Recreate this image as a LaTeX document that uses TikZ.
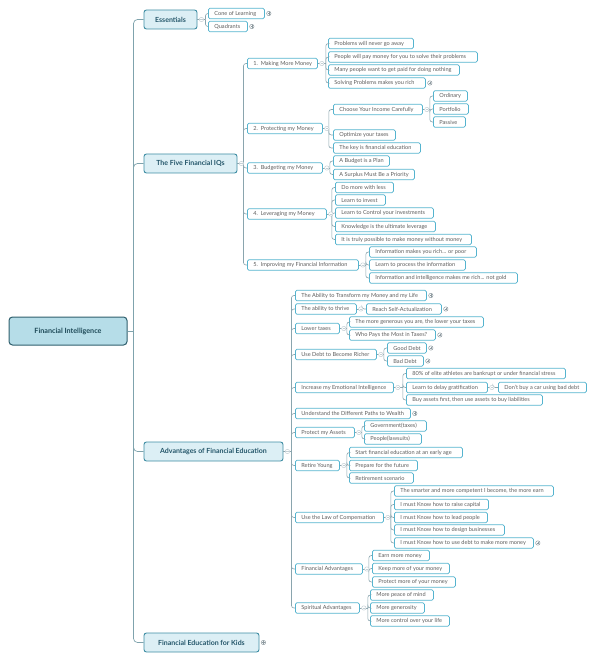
\documentclass[tikz,border=0pt]{standalone}
\usepackage{fontspec}
\setmainfont{Lato}
\definecolor{rootf}{HTML}{B6DDE8}
\definecolor{rootb}{HTML}{2F5F6D}
\definecolor{roott}{HTML}{1E4A58}
\definecolor{lonef}{HTML}{DCEFF5}
\definecolor{loneb}{HTML}{3E8DA3}
\definecolor{lonet}{HTML}{24566A}
\definecolor{leafc}{HTML}{55B4CF}
\definecolor{leaftxt}{HTML}{5E5E5E}
\definecolor{connc}{HTML}{8AA5AE}
\definecolor{trunkc}{HTML}{7FA3AD}
\definecolor{foldmc}{HTML}{C5D0D5}
\definecolor{foldpc}{HTML}{8E9AA0}
\tikzset{
  leaf/.style={draw=leafc, line width=0.8pt, fill=white, rounded corners=1.5pt,
    inner xsep=6pt, inner ysep=0pt, minimum height=10.5pt, anchor=west,
    font=\fontsize{5.6}{6}\selectfont, text=leaftxt},
  lone/.style={draw=loneb, line width=0.9pt, fill=lonef, rounded corners=2.5pt,
    inner xsep=1pt, inner ysep=0pt, minimum height=19pt,
    font=\fontsize{7}{8}\selectfont\bfseries, text=lonet},
  rootn/.style={draw=rootb, line width=1pt, fill=rootf, rounded corners=3.5pt,
    inner sep=1pt, font=\fontsize{7.2}{8}\selectfont\bfseries, text=roott},
  conn/.style={draw=connc, line width=0.6pt},
  trunk/.style={draw=trunkc, line width=0.7pt},
  foldm/.style={draw=foldmc, line width=0.5pt},
  foldp/.style={draw=foldpc, line width=0.5pt},
}
\newcommand\nd[5]{\pgfmathsetmacro\ndw{#3-#2-12}%
  \node[leaf] (#1) at (#2,#4) {\makebox[\ndw pt][l]{#5}};}
\newcommand\ndl[5]{\node[lone, minimum width={(#3-#2)*1pt}] (#1) at ({(#2+#3)/2},#4) {#5};}
\newcommand\br[3]{\draw[conn] (#1.east) -- ++(#2,0) coordinate (j#1);
  \foreach \c in {#3}{\draw[conn,rounded corners=2.5pt] (j#1) |- (\c.west);}}
\newcommand\fm[1]{\fill[white] ([xshift=4pt]#1.east) circle (2.2pt);
  \draw[foldm] ([xshift=4pt]#1.east) circle (2.2pt);
  \draw[foldm] ([xshift=2.9pt]#1.east) -- ([xshift=5.1pt]#1.east);}
\newcommand\fp[1]{\fill[white] ([xshift=4pt]#1.east) circle (2.2pt);
  \draw[foldp] ([xshift=4pt]#1.east) circle (2.2pt);
  \draw[foldp] ([xshift=2.9pt]#1.east) -- ([xshift=5.1pt]#1.east);
  \draw[foldp] ([xshift=4pt,yshift=1.1pt]#1.east) -- ([xshift=4pt,yshift=-1.1pt]#1.east);}
\begin{document}
\begin{tikzpicture}[x=1pt,y=-1pt]
\useasboundingbox (0,0) rectangle (594,660);
% root
\node[rootn, minimum width=118pt, minimum height=28pt] (root) at (68,331) {Financial Intelligence};
% level 1
\ndl{ess}{144}{197}{19.5}{Essentials}
\ndl{fiq}{144}{237}{163.5}{The Five Financial IQs}
\ndl{adv}{144}{283}{451.5}{Advantages of Financial Education}
\ndl{kids}{144}{259}{642.5}{Financial Education for Kids}
% Essentials
\nd{cone}{208}{264}{13.5}{Cone of Learning}
\nd{quad}{208}{247}{26.5}{Quadrants}
% Five IQs
\nd{m1}{247}{317}{63.5}{1.\enspace Making More Money}
\nd{m2}{247}{322}{128.5}{2.\enspace Protecting my Money}
\nd{m3}{247}{322}{168}{3.\enspace Budgeting my Money}
\nd{m4}{247}{326}{214}{4.\enspace Leveraging my Money}
\nd{m5}{247}{358}{265}{5.\enspace Improving my Financial Information}
\nd{m1a}{328}{413}{43.5}{Problems will never go away}
\nd{m1b}{328}{477}{57}{People will pay money for you to solve their problems}
\nd{m1c}{328}{459}{70}{Many people want to get paid for doing nothing}
\nd{m1d}{328}{425}{83}{Solving Problems makes you rich}
\nd{m2a}{333}{422}{109.5}{Choose Your Income Carefully}
\nd{m2b}{333}{395}{135}{Optimize your taxes}
\nd{m2c}{333}{420}{148}{The key is financial education}
\nd{m2aa}{433}{467}{96}{Ordinary}
\nd{m2ab}{433}{468}{109}{Portfolio}
\nd{m2ac}{433}{465}{122}{Passive}
\nd{m3a}{333}{389}{161}{A Budget is a Plan}
\nd{m3b}{333}{414}{174.5}{A Surplus Must Be a Priority}
\nd{m4a}{335}{393}{187.5}{Do more with less}
\nd{m4b}{335}{385}{200}{Learn to invest}
\nd{m4c}{335}{433}{213}{Learn to Control your investments}
\nd{m4d}{335}{435}{226.5}{Knowledge is the ultimate leverage}
\nd{m4e}{335}{471}{239.5}{It is truly possible to make money without money}
\nd{m5a}{369}{476}{252}{Information makes you rich... or poor}
\nd{m5b}{369}{465}{265}{Learn to process the information}
\nd{m5c}{369}{517}{278}{Information and intelligence makes me rich... not gold}
% Advantages
\nd{a1}{295}{426}{295.5}{The Ability to Transform my Money and my Life}
\nd{a2}{295}{356}{309}{The ability to thrive}
\nd{a2a}{366}{441}{309}{Reach Self-Actualization}
\nd{a3}{295}{339}{328.5}{Lower taxes}
\nd{a3a}{349}{483}{322}{The more generous you are, the lower your taxes}
\nd{a3b}{349}{435}{335}{Who Pays the Most in Taxes?}
\nd{a4}{295}{376}{354.5}{Use Debt to Become Richer}
\nd{a4a}{387}{426}{348}{Good Debt}
\nd{a4b}{387}{423}{361}{Bad Debt}
\nd{a5}{295}{393}{387.5}{Increase my Emotional Intelligence}
\nd{a5a}{406}{565}{373.5}{80\% of elite athletes are bankrupt or under financial stress}
\nd{a5b}{406}{487}{387.5}{Learn to delay gratification}
\nd{a5ba}{498}{586}{387.5}{Don't buy a car using bad debt}
\nd{a5c}{406}{542}{400}{Buy assets first, then use assets to buy liabilities}
\nd{a6}{295}{410}{413.5}{Understand the Different Paths to Wealth}
\nd{a7}{295}{354}{432.5}{Protect my Assets}
\nd{a7a}{364}{426}{426}{Government(taxes)}
\nd{a7b}{364}{421}{439}{People(lawsuits)}
\nd{a8}{295}{339}{465.5}{Retire Young}
\nd{a8a}{349}{462}{452.5}{Start financial education at an early age}
\nd{a8b}{349}{417}{465.5}{Prepare for the future}
\nd{a8c}{349}{413}{478}{Retirement scenario}
\nd{a9}{295}{383}{517.5}{Use the Law of Compensation}
\nd{a9a}{394}{553}{491}{The smarter and more competent I become, the more earn}
\nd{a9b}{394}{488}{504.5}{I must Know how to raise capital}
\nd{a9c}{394}{487}{517.5}{I must Know how to lead people}
\nd{a9d}{394}{504}{530}{I must Know how to design businesses}
\nd{a9e}{394}{533}{543}{I must Know how to use debt to make more money}
\nd{a10}{295}{362}{569}{Financial Advantages}
\nd{a10a}{372}{429}{555.5}{Earn more money}
\nd{a10b}{372}{449}{568.5}{Keep more of your money}
\nd{a10c}{372}{455}{582}{Protect more of your money}
\nd{a11}{295}{359}{608}{Spiritual Advantages}
\nd{a11a}{370}{433}{595}{More peace of mind}
\nd{a11b}{370}{424}{608}{More generosity}
\nd{a11c}{370}{449}{621}{More control over your life}
% trunk
\draw[trunk] (root.east) -- ++(6,0) coordinate (jroot);
\foreach \c in {ess,fiq,adv,kids}{\draw[trunk,rounded corners=4pt] (jroot) |- (\c.west);}
% branches
\br{ess}{8}{cone,quad}
\br{fiq}{6}{m1,m2,m3,m4,m5}
\br{m1}{8}{m1a,m1b,m1c,m1d}
\br{m2}{6}{m2a,m2b,m2c}
\br{m2a}{7}{m2aa,m2ab,m2ac}
\br{m3}{7}{m3a,m3b}
\br{m4}{5}{m4a,m4b,m4c,m4d,m4e}
\br{m5}{7}{m5a,m5b,m5c}
\br{adv}{8}{a1,a2,a3,a4,a5,a6,a7,a8,a9,a10,a11}
\br{a2}{5}{a2a}
\br{a3}{7}{a3a,a3b}
\br{a4}{7}{a4a,a4b}
\br{a5}{9}{a5a,a5b,a5c}
\br{a5b}{5}{a5ba}
\br{a7}{7}{a7a,a7b}
\br{a8}{7}{a8a,a8b,a8c}
\br{a9}{7}{a9a,a9b,a9c,a9d,a9e}
\br{a10}{6}{a10a,a10b,a10c}
\br{a11}{8}{a11a,a11b,a11c}
% fold markers
\fm{ess}\fm{fiq}\fm{adv}
\fm{m1}\fm{m2}\fm{m2a}\fm{m3}\fm{m4}\fm{m5}
\fm{a2}\fm{a3}\fm{a4}\fm{a5}\fm{a5b}\fm{a7}\fm{a8}\fm{a9}\fm{a10}\fm{a11}
\fp{kids}\fp{cone}\fp{quad}\fp{m1d}\fp{a1}\fp{a2a}\fp{a3b}\fp{a4a}\fp{a4b}\fp{a6}\fp{a9e}
\end{tikzpicture}
\end{document}
